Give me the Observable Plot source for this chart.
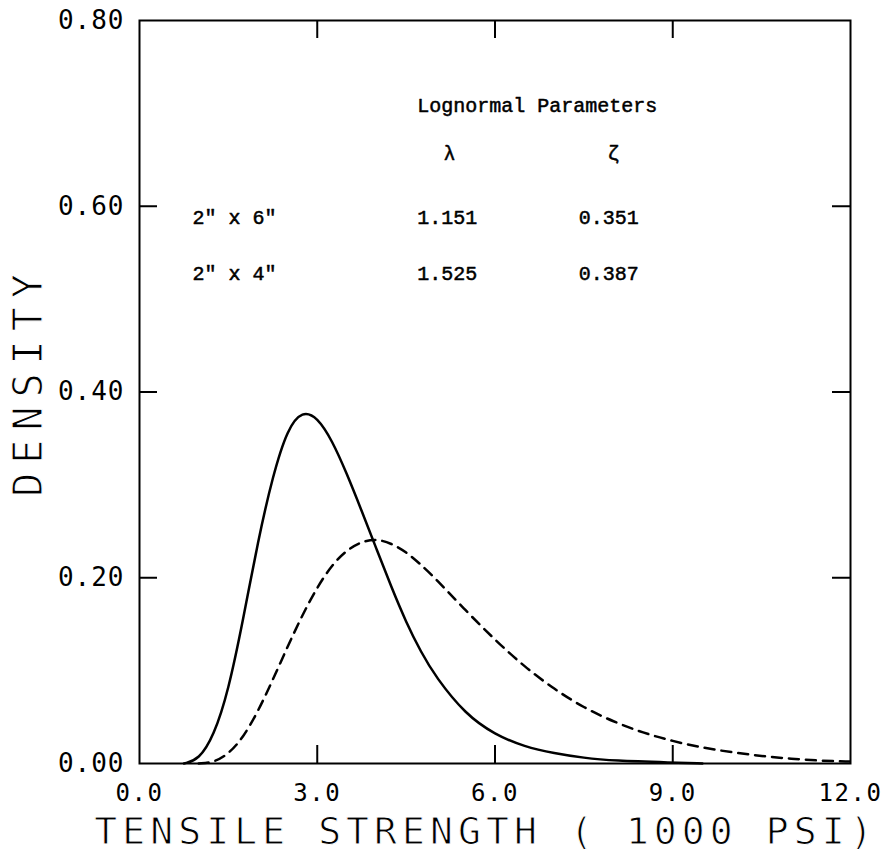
<!DOCTYPE html>
<html>
<head>
<meta charset="utf-8">
<script src="https://cdn.jsdelivr.net/npm/d3@7"></script>
<script src="https://cdn.jsdelivr.net/npm/@observablehq/plot@0.6"></script>
<style>
  html, body { margin: 0; padding: 0; background: #fff; }
  #chart svg { display: block; }
</style>
</head>
<body>
<div id="chart"></div>
<script>
// ---- data ----
const xTicks = [0, 3, 6, 9, 12];
const yTicks = [0, 0.2, 0.4, 0.6, 0.8];
const xInnerTicks = [3, 6, 9];
const yInnerTicks = [0.2, 0.4, 0.6];

// 2" x 6" (solid)
const solidX = [0.75, 1.0, 1.25, 1.5, 1.75, 2.0, 2.25, 2.5, 2.75, 3.0, 3.25, 3.5, 3.75, 4.0, 4.25, 4.5, 4.75, 5.0, 5.5, 6.0, 6.5, 7.0, 7.5, 8.0, 9.0, 9.5];
const solidY = [0.000, 0.004, 0.029, 0.078, 0.155, 0.240, 0.310, 0.361, 0.380, 0.373, 0.348, 0.312, 0.272, 0.231, 0.190, 0.152, 0.120, 0.093, 0.053, 0.031, 0.018, 0.011, 0.006, 0.003, 0.001, 0.000];

// 2" x 4" (dashed)
const dashX = [1.0, 1.25, 1.5, 1.75, 2.0, 2.25, 2.5, 2.75, 3.0, 3.25, 3.5, 3.75, 4.0, 4.25, 4.5, 4.75, 5.0, 5.5, 6.0, 6.5, 7.0, 7.5, 8.0, 8.5, 9.0, 9.5, 10.0, 10.5, 11.0, 11.5, 12.0];
const dashY = [0.000, 0.001, 0.010, 0.028, 0.056, 0.090, 0.126, 0.160, 0.190, 0.214, 0.230, 0.239, 0.242, 0.237, 0.228, 0.214, 0.199, 0.165, 0.133, 0.104, 0.080, 0.060, 0.045, 0.033, 0.024, 0.017, 0.012, 0.008, 0.005, 0.003, 0.002];

// annotation table
const tableHeader = "Lognormal Parameters";
const paramNames = ["λ", "ζ"];
const specimens = ["2\" x 6\"", "2\" x 4\""];
const lambdas = ["1.151", "1.525"];
const zetas = ["0.351", "0.387"];

const xTitle = "TENSILE STRENGTH ( 1000 PSI)";
const yTitle = "DENSITY";

// ---- build ----
const solid = solidX.map((x, i) => ({x, y: solidY[i]}));
const dashed = dashX.map((x, i) => ({x, y: dashY[i]}));
const rowY = [0.588, 0.527];
const rows = specimens.map((s, i) => ({s, l: lambdas[i], z: zetas[i], y: rowY[i]}));

const axisFont = "DejaVu Sans Mono";
const typeFont = "Liberation Mono";

const W = 888, H = 855, mL = 139, mR = 38, mT = 20, mB = 92;
const frameW = W - mL - mR, frameH = H - mT - mB, tick = 18;
const typeStyle = {fontFamily: typeFont, fontSize: 20, fill: "#000", stroke: "#000", strokeWidth: 0.5};

const svg = Plot.plot({
  width: W,
  height: H,
  marginLeft: mL,
  marginRight: mR,
  marginTop: mT,
  marginBottom: mB,
  x: {domain: [0, 12], axis: null},
  y: {domain: [0, 0.8], axis: null},
  marks: [
    Plot.frame({stroke: "#000", strokeWidth: 2}),
    // inward ticks on all four sides
    Plot.tickX(xInnerTicks, {x: d => d, insetTop: frameH - tick, stroke: "#000", strokeWidth: 2}),
    Plot.tickX(xInnerTicks, {x: d => d, insetBottom: frameH - tick, stroke: "#000", strokeWidth: 2}),
    Plot.tickY(yInnerTicks, {y: d => d, insetRight: frameW - tick, stroke: "#000", strokeWidth: 2}),
    Plot.tickY(yInnerTicks, {y: d => d, insetLeft: frameW - tick, stroke: "#000", strokeWidth: 2}),
    // tick labels
    Plot.text(xTicks, {x: d => d, frameAnchor: "bottom", lineAnchor: "middle", dy: 30, text: d => d.toFixed(1),
      fontFamily: axisFont, fontSize: 24, fill: "#000"}),
    Plot.text(yTicks, {y: d => d, frameAnchor: "left", lineAnchor: "middle", dx: -15, textAnchor: "end", text: d => d.toFixed(2),
      fontFamily: axisFont, fontSize: 26, fill: "#000"}),
    // axis titles
    Plot.text([xTitle], {frameAnchor: "bottom", textAnchor: "middle", lineAnchor: "middle", dx: -9, dy: 68, text: d => d,
      fontFamily: axisFont, fontSize: 38, fill: "#000", stroke: "#fff", strokeWidth: 1, paintOrder: "normal"}),
    Plot.text([yTitle], {frameAnchor: "left", textAnchor: "middle", lineAnchor: "middle", dx: -110, dy: -11, rotate: -90, text: d => d,
      fontFamily: axisFont, fontSize: 40, fill: "#000", stroke: "#fff", strokeWidth: 1.1, paintOrder: "normal"}),
    // curves
    Plot.line(solid, {x: "x", y: "y", stroke: "#000", strokeWidth: 2.5, curve: "basis"}),
    Plot.line(dashed, {x: "x", y: "y", stroke: "#000", strokeWidth: 2.5, strokeDasharray: "10,7", curve: "basis"}),
    // annotation table
    Plot.text([tableHeader], {x: 4.687, y: 0.7085, text: d => d, textAnchor: "start", ...typeStyle}),
    Plot.text(paramNames, {x: (d, i) => [5.23, 8.0][i], y: 0.657, text: d => d, ...typeStyle}),
    Plot.text(rows, {x: 0.895, y: "y", text: "s", textAnchor: "start", ...typeStyle}),
    Plot.text(rows, {x: 4.687, y: "y", text: "l", textAnchor: "start", ...typeStyle}),
    Plot.text(rows, {x: 7.415, y: "y", text: "z", textAnchor: "start", ...typeStyle})
  ]
});

d3.select(svg).style("background", "#fff");
const spacing = new Map([
  [xTitle, "5.1px"],
  [yTitle, "9px"]
]);
xTicks.forEach(d => spacing.set(d.toFixed(1), "1.5px"));
yTicks.forEach(d => spacing.set(d.toFixed(2), "1px"));
d3.select(svg).selectAll("text").each(function() {
  const t = this.textContent;
  if (spacing.has(t)) this.style.letterSpacing = spacing.get(t);
});
document.getElementById("chart").appendChild(svg);
</script>
</body>
</html>
